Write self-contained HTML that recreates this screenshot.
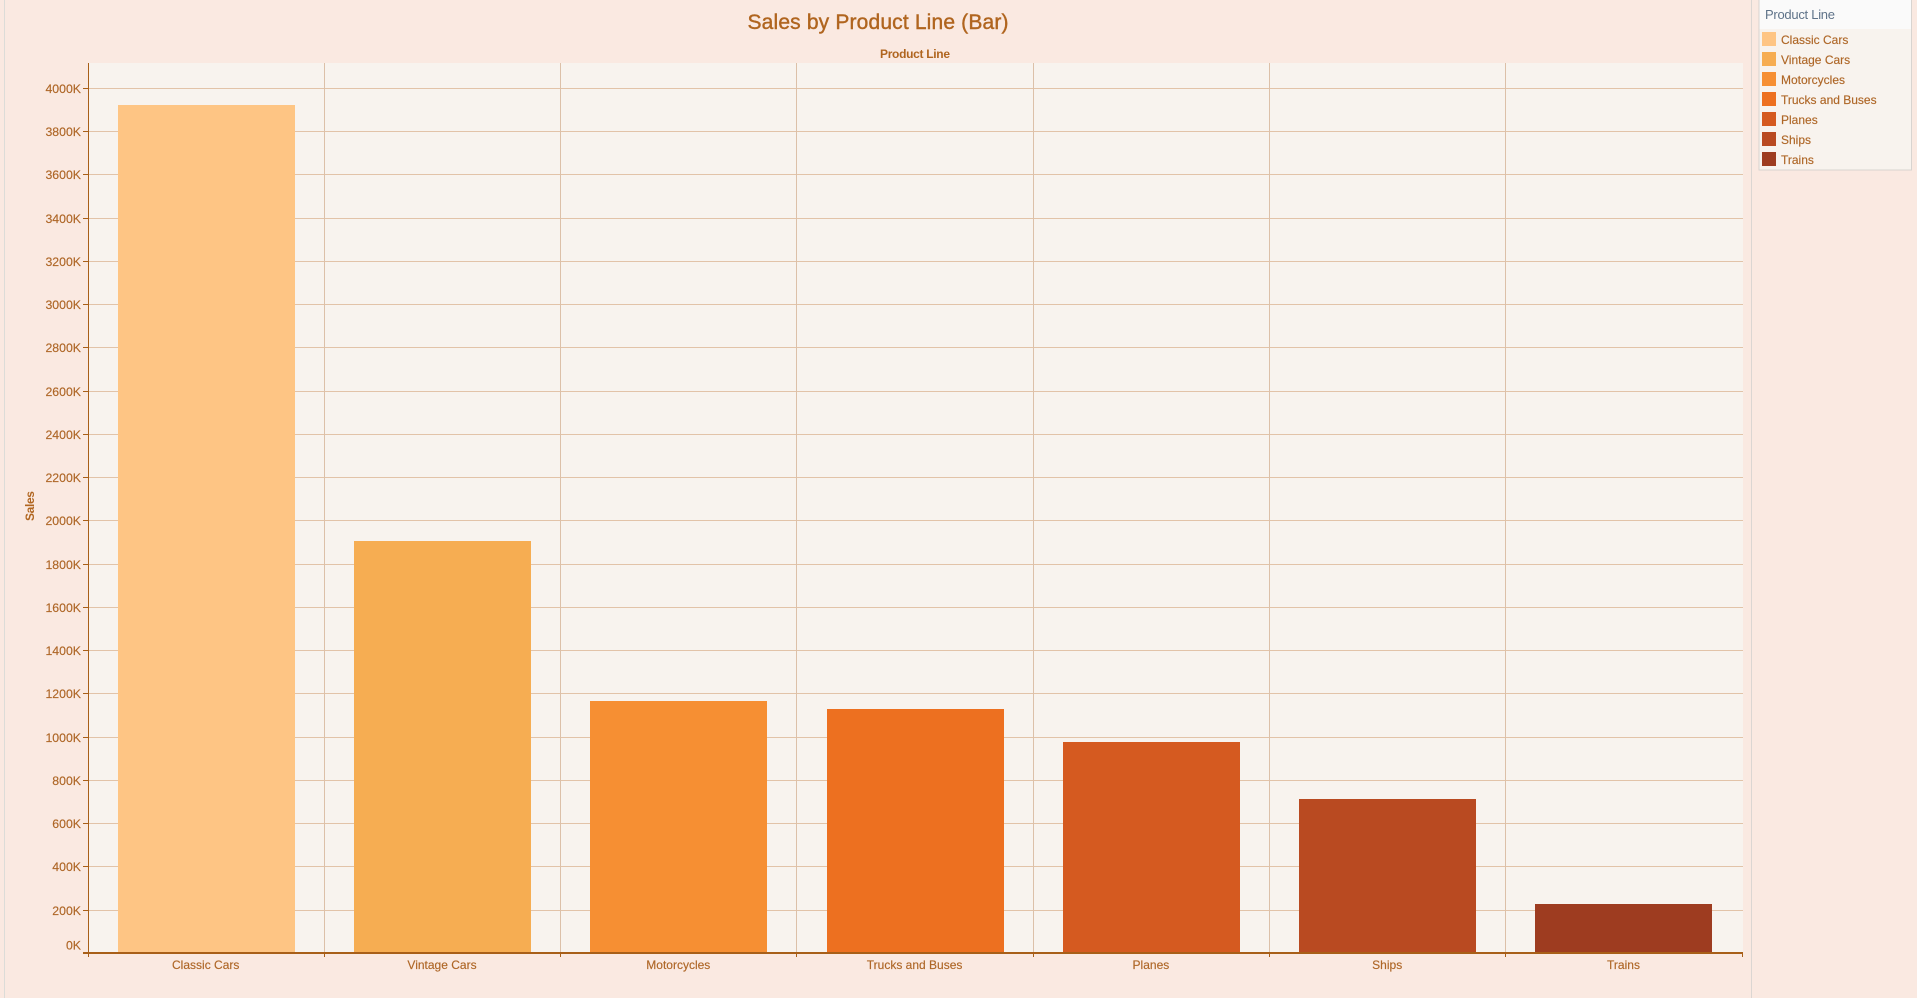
<!DOCTYPE html>
<html lang="en">
<head>
<meta charset="utf-8">
<title>Sales by Product Line (Bar)</title>
<style>
html,body{margin:0;padding:0;width:1917px;height:998px;overflow:hidden;background:#fae9e1;}
svg{display:block;font-family:"Liberation Sans",sans-serif;}
</style>
</head>
<body>
<svg id="chart" width="1917" height="998" viewBox="0 0 1917 998" xmlns="http://www.w3.org/2000/svg">
  <rect x="0" y="0" width="1917" height="998" fill="#fae9e1"/>
  <rect x="4" y="0" width="1" height="998" fill="#dcdcd8"/>
  <rect x="1751" y="0" width="1" height="998" fill="#dbd6d2"/>
  <text x="878" y="29" text-anchor="middle" font-size="21" font-weight="400" fill="#b0651f" stroke="#b0651f" stroke-width="0.4" textLength="261">Sales by Product Line (Bar)</text>
  <text x="915" y="58" text-anchor="middle" font-size="12" font-weight="700" fill="#b0651f" textLength="70">Product Line</text>
  <rect x="88" y="63" width="1655" height="890" fill="#f8f3ee"/>
  <g id="grid"></g>
  <g id="bars"></g>
  <g id="axes"></g>
  <text transform="translate(34,506) rotate(-90)" text-anchor="middle" font-size="12" font-weight="700" fill="#b0651f" textLength="30">Sales</text>
  <g id="legend">
    <rect x="1759" y="0" width="152.500" height="170" fill="#f8f3ee" stroke="#d8d4d0" stroke-width="1"/>
    <rect x="1759.500" y="0" width="151.500" height="29" fill="#fafafa"/>
    <text x="1765" y="19" font-size="13" fill="#5f7389" textLength="70">Product Line</text>
  </g>
</svg>
<script>
const categories = ["Classic Cars", "Vintage Cars", "Motorcycles", "Trucks and Buses", "Planes", "Ships", "Trains"];
const salesK = [3922, 1907, 1167, 1130, 977, 714, 228];
const barColors = ["#fec584", "#f6ad52", "#f68f33", "#ed7020", "#d55a20", "#b94a21", "#9e3c20"];
const yTicks = [0, 200, 400, 600, 800, 1000, 1200, 1400, 1600, 1800, 2000, 2200, 2400, 2600, 2800, 3000, 3200, 3400, 3600, 3800, 4000];
const yTickLabels = ["0K", "200K", "400K", "600K", "800K", "1000K", "1200K", "1400K", "1600K", "1800K", "2000K", "2200K", "2400K", "2600K", "2800K", "3000K", "3200K", "3400K", "3600K", "3800K", "4000K"];

const NS = "http://www.w3.org/2000/svg";
const PLOT = { left: 88.05, right: 1742.15, top: 63, baseline: 953.4, y4000: 88.3 };
const BAR_PAD = 29.6;
const AXIS_COLOR = "#a85f18";
const TEXT_COLOR = "#ae6626";
const H_GRID = "#e2c3a8";
const V_GRID = "#dcc0a8";

function yScale(v) {
  return PLOT.baseline - v * (PLOT.baseline - PLOT.y4000) / 4000;
}
function bandStep() {
  return (PLOT.right - PLOT.left) / categories.length;
}
function xBandStart(i) {
  return PLOT.left + i * bandStep();
}
function crisp(p) {
  return Math.floor(p) + 0.5;
}
function make(tag, attrs, parent) {
  const el = document.createElementNS(NS, tag);
  for (const k in attrs) el.setAttribute(k, attrs[k]);
  parent.appendChild(el);
  return el;
}

const gridG = document.getElementById("grid");
const barsG = document.getElementById("bars");
const axesG = document.getElementById("axes");
const legendG = document.getElementById("legend");

yTicks.forEach(function (v, i) {
  const y = crisp(yScale(v));
  if (v > 0) {
    const g = make("line", { x1: 88, x2: 1743, y1: y, y2: y, stroke: H_GRID, "stroke-width": 1 }, gridG);
    
    
  }
  const t = make("line", { x1: 83, x2: 88, y1: y, y2: y, stroke: AXIS_COLOR, "stroke-width": 1 }, axesG);
  
  
  const labelY = v === 0 ? y - 4 : y + 4.5;
  const lab = make("text", { x: 81, y: labelY, "text-anchor": "end", "font-size": 12.3, fill: TEXT_COLOR, stroke: TEXT_COLOR, "stroke-width": 0.15 }, axesG);
  
  
  lab.textContent = yTickLabels[i];
});

for (let i = 1; i < categories.length; i++) {
  const x = crisp(xBandStart(i));
  const g = make("line", { x1: x, x2: x, y1: PLOT.top, y2: 953, stroke: V_GRID, "stroke-width": 1 }, gridG);
  
  
}

categories.forEach(function (name, i) {
  const step = bandStep();
  const x0 = Math.round(xBandStart(i) + BAR_PAD);
  const w = Math.round(step - 2 * BAR_PAD);
  const top = Math.round(yScale(salesK[i]));
  const r = make("rect", { x: x0, y: top, width: w, height: 953 - top, fill: barColors[i] }, barsG);
  
  

  const lab = make("text", { x: xBandStart(i) + step / 2 - 0.5, y: 969, "text-anchor": "middle", "font-size": 12, fill: TEXT_COLOR, stroke: TEXT_COLOR, "stroke-width": 0.15 }, axesG);
  
  
  lab.textContent = name;

  const sw = make("rect", { x: 1762, y: 32 + i * 20, width: 14, height: 14, fill: barColors[i] }, legendG);
  
  
  const lt = make("text", { x: 1781, y: 44 + i * 20, "font-size": 12, fill: TEXT_COLOR, stroke: TEXT_COLOR, "stroke-width": 0.15 }, legendG);
  
  
  lt.textContent = name;
});

for (let i = 0; i <= categories.length; i++) {
  const x = crisp(xBandStart(i));
  const t = make("line", { x1: x, x2: x, y1: 953, y2: 957, stroke: AXIS_COLOR, "stroke-width": 1 }, axesG);
  
  
}

const yAxis = make("line", { x1: 88.5, x2: 88.5, y1: PLOT.top, y2: 954, stroke: AXIS_COLOR, "stroke-width": 1 }, axesG);


const xAxis = make("line", { x1: 83, x2: 1743, y1: 953, y2: 953, stroke: AXIS_COLOR, "stroke-width": 2 }, axesG);


</script>
</body>
</html>
